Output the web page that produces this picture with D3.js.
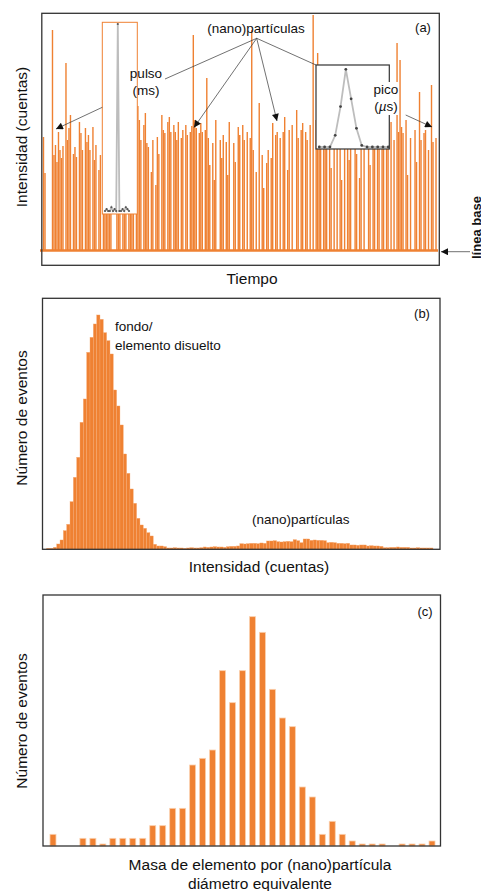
<!DOCTYPE html>
<head>
  <meta charset="utf-8">
  <title>spICP-MS</title>
  <script src="https://d3js.org/d3.v7.min.js"></script>
  <style>
    body { margin:0; background:#fff; }
    svg { display:block; font-family:"Liberation Sans", Arial, sans-serif; }
  </style>
</head>
<body>
  <svg width="481" height="891"></svg>
  <script>
    var orange = '#ef8132';

    // (a) time trace: spike height of each reading (counts above baseline)
    var spikes = [
      113, 77, 0, 0, 0, 0, 220, 95, 105, 88,
      118, 100, 92, 104, 0, 187, 110, 122, 135, 0,
      96, 103, 93, 0, 128, 117, 100, 0, 122, 108,
      115, 100, 0, 123, 90, 105, 0, 80, 95, 0,
      90, 100, 85, 95, 110, 95, 0, 0, 0, 100,
      90, 105, 0, 95, 100, 88, 0, 110, 95, 100,
      85, 0, 100, 144, 130, 110, 0, 125, 137, 107,
      103, 0, 78, 110, 0, 65, 113, 96, 0, 135,
      120, 117, 0, 128, 133, 118, 0, 125, 118, 110,
      128, 0, 112, 120, 0, 125, 115, 0, 118, 124,
      215, 130, 122, 0, 117, 127, 118, 0, 120, 172,
      112, 85, 0, 107, 70, 130, 0, 0, 110, 92,
      115, 0, 108, 75, 128, 0, 0, 107, 88, 0,
      123, 115, 0, 125, 110, 0, 118, 0, 112, 220,
      100, 0, 78, 0, 147, 0, 95, 62, 0, 87,
      100, 0, 92, 127, 0, 115, 118, 0, 112, 0,
      118, 133, 0, 80, 120, 0, 125, 0, 0, 140,
      112, 0, 120, 127, 0, 118, 110, 0, 125, 0,
      235, 0, 130, 197, 120, 110, 0, 115, 125, 105,
      0, 120, 82, 0, 130, 0, 108, 0, 125, 70,
      0, 110, 0, 120, 90, 116, 0, 0, 124, 96,
      0, 72, 126, 0, 108, 0, 0, 115, 85, 0,
      110, 130, 0, 118, 108, 0, 125, 112, 0, 120,
      115, 0, 128, 0, 110, 0, 207, 118, 190, 123,
      117, 0, 130, 75, 0, 112, 0, 0, 120, 88,
      0, 158, 110, 0, 117, 120, 0, 100, 0, 165,
      108, 0, 112, 0
    ];
    // insets: one pulse (ms) and one peak (us), % of max
    var pulse = [0, 1, 0, 0, 2, 0, 1, 0, 100, 0, 0, 1, 0, 2, 1, 0];
    var pico = [0, 0, 0, 15, 52, 100, 62, 24, 2, 0, 0, 0, 0, 0];

    // (b) histogram of intensities
    var histB = [
      3, 3, 6, 16, 28, 56, 75, 143, 216, 276, 381, 451, 591, 636, 676, 703, 690, 650,
      626, 586, 478, 430, 373, 286, 228, 181, 138, 93, 73, 63, 50, 40, 15, 10, 10, 8,
      4, 4, 5, 4, 4, 3, 4, 5, 4, 4, 5,
      7, 6, 7, 8, 7, 7, 6, 8,
      9, 9, 10,
      17, 16, 17,
      18, 18, 17, 19, 18,
      25, 25, 26,
      23, 22, 23, 24, 23,
      29, 26, 20, 31, 31,
      27, 28, 27, 27, 26,
      20, 21, 20,
      18, 18, 17, 18,
      13, 13, 12, 13, 13,
      10, 11, 10, 10, 9,
      5, 5,
      6, 6, 7, 6, 6, 6,
      4, 4, 5, 4, 4, 4, 4
    ];

    // (c) mass distribution
    var histC = [35, 0, 0, 23, 23, 6, 23, 23, 23, 23, 61, 61, 113, 113, 243, 263, 288, 526, 430,
      526, 688, 641, 470, 384, 358, 177, 147, 35, 74, 35, 15, 6, 6, 6, 0, 6, 6, 6, 15];

    var svg = d3.select('svg');

    svg.append('defs').append('marker')
      .attr('id', 'arr')
      .attr('viewBox', '0 0 10 10')
      .attr('refX', 10).attr('refY', 5)
      .attr('markerWidth', 11).attr('markerHeight', 7)
      .attr('markerUnits', 'userSpaceOnUse')
      .attr('orient', 'auto')
      .append('path').attr('d', 'M0,0L10,5L0,10z').attr('fill', '#111');

    function label(x, y, txt, size, anchor) {
      return svg.append('text')
        .attr('x', x).attr('y', y)
        .attr('text-anchor', anchor || 'middle')
        .attr('font-size', size)
        .attr('fill', '#111')
        .text(txt);
    }
    function vlabel(x, y, txt) {
      svg.append('text')
        .attr('transform', 'translate(' + [x, y] + ') rotate(-90)')
        .attr('text-anchor', 'middle')
        .attr('font-size', 15.5)
        .attr('fill', '#111')
        .text(txt);
    }
    function arrow(x1, y1, x2, y2, head) {
      var l = svg.append('line')
        .attr('x1', x1).attr('y1', y1).attr('x2', x2).attr('y2', y2)
        .attr('stroke', '#333').attr('stroke-width', 0.7);
      if (head) l.attr('marker-end', 'url(#arr)');
    }

    // ---------- (a) ----------
    var xA = d3.scaleLinear().domain([0, spikes.length - 1]).range([43.5, 437.5]);
    var yA = d3.scaleLinear().domain([0, 237]).range([250, 13]);

    svg.append('g').selectAll('rect')
      .data(spikes.map((d, i) => ({i: i, v: d})).filter(d => d.v > 0))
      .join('rect')
      .attr('x', d => xA(d.i) - 0.7)
      .attr('width', 1.4)
      .attr('y', d => yA(d.v))
      .attr('height', d => yA(0) - yA(d.v))
      .attr('fill', orange);
    // baseline noise band
    svg.append('line')
      .attr('x1', 40).attr('x2', 438)
      .attr('y1', yA(0) + 0.5).attr('y2', yA(0) + 0.5)
      .attr('stroke', orange).attr('stroke-width', 2.6);

    // pulse inset
    svg.append('rect').attr('x', 102.3).attr('y', 22.3).attr('width', 35).attr('height', 191.7)
      .attr('fill', '#fff').attr('stroke', orange).attr('stroke-width', 1);
    var xP = d3.scaleLinear().domain([0, pulse.length - 1]).range([105, 129]);
    var yP = d3.scaleLinear().domain([0, 100]).range([211, 24]);
    svg.append('path')
      .attr('d', d3.line().x((d, i) => xP(i)).y(d => yP(d))(pulse))
      .attr('fill', 'none').attr('stroke', '#bdbdbd').attr('stroke-width', 1.8);
    svg.append('g').selectAll('circle').data(pulse).join('circle')
      .attr('cx', (d, i) => xP(i)).attr('cy', d => yP(d)).attr('r', 1.1).attr('fill', '#555');

    // peak inset
    svg.append('rect').attr('x', 316).attr('y', 65).attr('width', 73.3).attr('height', 84)
      .attr('fill', '#fff').attr('stroke', '#333').attr('stroke-width', 1.2);
    var xQ = d3.scaleLinear().domain([0, pico.length - 1]).range([319.3, 388.3]);
    var yQ = d3.scaleLinear().domain([0, 100]).range([147, 69.3]);
    svg.append('path')
      .attr('d', d3.line().x((d, i) => xQ(i)).y(d => yQ(d))(pico))
      .attr('fill', 'none').attr('stroke', '#bdbdbd').attr('stroke-width', 1.8);
    svg.append('g').selectAll('circle').data(pico).join('circle')
      .attr('cx', (d, i) => xQ(i)).attr('cy', d => yQ(d)).attr('r', 1.4).attr('fill', '#444');

    svg.append('rect').attr('x', 41.8).attr('y', 13.3).attr('width', 397.5).attr('height', 252)
      .attr('fill', 'none').attr('stroke', '#333').attr('stroke-width', 1.3);

    // annotations (a)
    label(256, 33, '(nano)partículas', 13.5);
    arrow(256.7, 38.3, 165, 79, false);
    arrow(256.7, 38.3, 194, 127.5, true);
    arrow(256.7, 38.3, 277, 121, true);
    arrow(256.7, 38.3, 316, 65, false);
    arrow(102.3, 107.3, 56, 129, true);
    label(146, 77.5, 'pulso', 13.5);
    label(146, 94.5, '(ms)', 13.5);
    svg.append('rect').attr('x', 372).attr('y', 82).attr('width', 27).attr('height', 33).attr('fill', '#fff');
    label(386, 93.5, 'pico', 13.5);
    var mu = label(386, 110.5, '(', 13.5);
    mu.append('tspan').attr('font-style', 'italic').text('µ');
    mu.append('tspan').text('s)');
    arrow(405.7, 115, 432, 127, true);
    label(423, 32, '(a)', 13);
    arrow(470, 251.7, 441, 251.7, true);
    svg.append('text')
      .attr('transform', 'translate(481,259) rotate(-90)')
      .attr('font-size', 13).attr('font-weight', 'bold').attr('fill', '#111')
      .text('línea base');
    vlabel(27, 137, 'Intensidad (cuentas)');
    label(252, 284, 'Tiempo', 15.5);

    // ---------- (b) ----------
    var xB = d3.scaleLinear().domain([0, histB.length]).range([46.7, 433]);
    var yB = d3.scaleLinear().domain([0, 753]).range([549.3, 298.3]);
    svg.append('g').selectAll('rect').data(histB).join('rect')
      .attr('x', (d, i) => xB(i))
      .attr('width', xB(1) - xB(0))
      .attr('y', d => yB(d))
      .attr('height', d => yB(0) - yB(d))
      .attr('fill', orange)
      .attr('stroke', '#f5ab75').attr('stroke-width', 0.35);
    svg.append('rect').attr('x', 42.5).attr('y', 298.3).attr('width', 397.5).attr('height', 251)
      .attr('fill', 'none').attr('stroke', '#333').attr('stroke-width', 1.3);
    label(422, 318, '(b)', 13);
    label(115, 331, 'fondo/', 13.5, 'start');
    label(115, 350, 'elemento disuelto', 13.5, 'start');
    label(252, 524, '(nano)partículas', 13.5, 'start');
    vlabel(27, 418, 'Número de eventos');
    label(259, 572, 'Intensidad (cuentas)', 15.5);

    // ---------- (c) ----------
    var xC = d3.scaleBand().domain(d3.range(histC.length)).range([48, 437])
      .paddingInner(0.4).paddingOuter(0.2);
    var yC = d3.scaleLinear().domain([0, 753]).range([846, 595]);
    svg.append('g').selectAll('rect').data(histC).join('rect')
      .attr('x', (d, i) => xC(i))
      .attr('width', xC.bandwidth())
      .attr('y', d => yC(d))
      .attr('height', d => yC(0) - yC(d))
      .attr('fill', orange)
      .attr('stroke', '#fbd0ad').attr('stroke-width', 0.8);
    svg.append('rect').attr('x', 43).attr('y', 595).attr('width', 397.5).attr('height', 251)
      .attr('fill', 'none').attr('stroke', '#333').attr('stroke-width', 1.3);
    label(425, 616, '(c)', 13);
    vlabel(27, 721, 'Número de eventos');
    label(260, 870, 'Masa de elemento por (nano)partícula', 15.5);
    label(260, 889, 'diámetro equivalente', 15.5);
  </script>
</body>
